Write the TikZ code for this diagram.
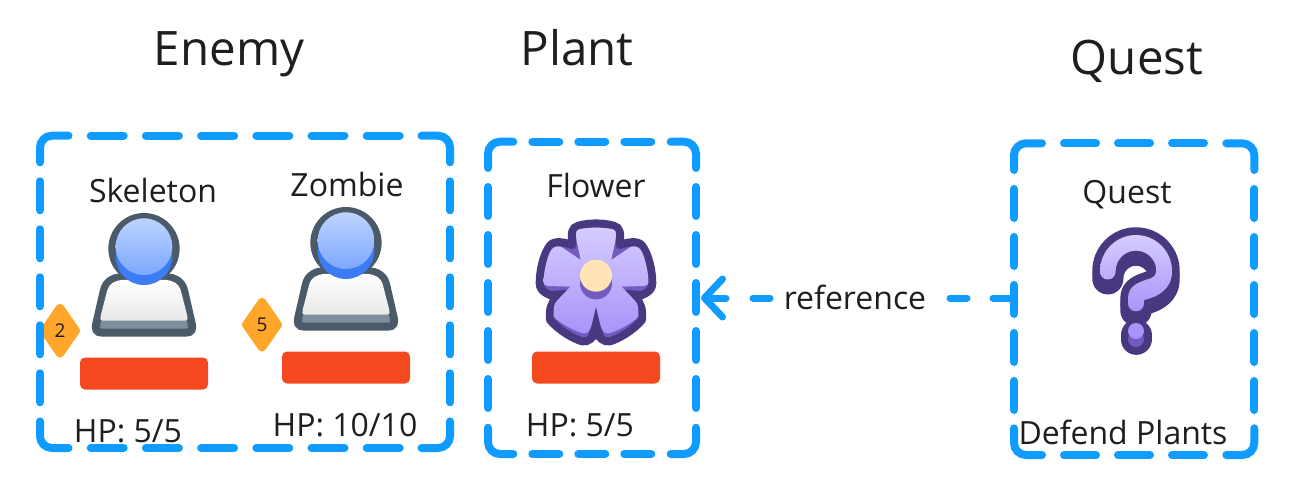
\documentclass[tikz,border=0pt]{standalone}
\usepackage{fontspec}
\setmainfont{Open Sans}
\usetikzlibrary{arrows.meta}
\definecolor{frameblue}{HTML}{0F9BFF}
\definecolor{inkdark}{HTML}{1E1E1E}
\definecolor{barred}{HTML}{F4491F}
\definecolor{badge}{HTML}{FFA62B}
\definecolor{slate}{HTML}{4B5A69}
\definecolor{slatemid}{HTML}{7F8E9D}
\definecolor{bluedeep}{HTML}{3B7CF5}
\definecolor{bluetop}{HTML}{BDD4FF}
\definecolor{bluebot}{HTML}{7DA8FF}
\definecolor{purpledark}{HTML}{483880}
\definecolor{purplemid}{HTML}{7359C0}
\definecolor{purpletop}{HTML}{D6CCFF}
\definecolor{purplebot}{HTML}{A893F8}
\definecolor{cream}{HTML}{FFE4B5}
\tikzset{
  framestroke/.style={draw=frameblue,line width=8pt,line cap=round},
  framebox/.style={inner sep=0pt,outer sep=0pt},
  title/.style={text=inkdark,font=\fontsize{47.5}{54}\selectfont,inner sep=0pt,anchor=base},
  label/.style={text=inkdark,font=\fontsize{32}{38}\selectfont,inner sep=0pt,anchor=base},
  redbar/.style={fill=barred,rounded corners=5pt,minimum width=128pt,minimum height=32pt,inner sep=0pt},
  badgeshape/.style={fill=badge,draw=badge,line join=round,line width=8pt},
  connector/.style={draw=frameblue,line width=7pt,line cap=round,dash pattern=on 18pt off 27pt on 17pt off 180pt on 17pt off 26pt on 30pt},
  person/.pic={
    \begin{scope}[x=0.3333pt,y=-0.3333pt]
      \fill[slate] (342,176) circle (107);
      \draw[slate,line width=8pt,fill=slatemid] (216,428) -- (468,428) .. controls (486,428) and (489,415) .. (485,400) -- (462,300) .. controls (455,272) and (430,262) .. (410,262) -- (274,262) .. controls (254,262) and (229,272) .. (222,300) -- (199,400) .. controls (195,415) and (198,428) .. (216,428) -- cycle;
      \shade[top color=white,bottom color=gray!18] (218,392) -- (466,392) .. controls (474,392) and (474,385) .. (472,378) -- (452,300) .. controls (447,282) and (430,272) .. (410,270) -- (274,270) .. controls (254,272) and (237,282) .. (232,300) -- (212,378) .. controls (210,385) and (210,392) .. (218,392) -- cycle;
      \fill[bluedeep] (342,200) circle (85);
      \shade[top color=bluetop,bottom color=bluebot] (342,170) circle (85);
    \end{scope}
  },
  flower/.pic={
    \begin{scope}[x=0.3333pt,y=-0.3333pt]
      \draw[purpledark,line width=8pt,fill=purplemid,line join=round]
        (157,100) .. controls (153,70) and (155,52) .. (175,47) .. controls (210,38) and (246,38) .. (281,47) .. controls (301,52) and (303,70) .. (299,105)
        .. controls (320,98) and (350,90) .. (365,105) .. controls (385,130) and (397,180) .. (397,220) .. controls (397,245) and (370,255) .. (345,262)
        .. controls (365,280) and (368,300) .. (366,330) .. controls (340,360) and (300,385) .. (270,394) .. controls (250,397) and (238,385) .. (228,362)
        .. controls (218,385) and (206,397) .. (186,394) .. controls (156,385) and (116,360) .. (90,330) .. controls (88,300) and (91,280) .. (111,262)
        .. controls (86,255) and (59,245) .. (59,220) .. controls (59,180) and (71,130) .. (91,105) .. controls (106,90) and (136,98) .. (157,105) -- cycle;
      \fill[purpledark] (214,345) -- (228,295) -- (242,345) -- (254,388) -- (202,388) -- cycle;
      \fill[purpledark] (300,238) -- (390,246) -- (350,270) -- cycle;
      \fill[purpledark] (156,238) -- (66,246) -- (106,270) -- cycle;
      \shade[top color=purpletop,bottom color=purplebot]
        (182,150) .. controls (175,115) and (168,90) .. (168,72) .. controls (168,60) and (175,58) .. (185,56) .. controls (215,52) and (241,52) .. (271,56) .. controls (281,58) and (288,60) .. (288,72) .. controls (288,90) and (281,115) .. (274,150)
        -- (330,112) .. controls (350,105) and (360,112) .. (368,130) .. controls (378,155) and (386,195) .. (385,215) .. controls (385,225) and (378,228) .. (370,228) -- (305,230) -- (345,272) .. controls (355,282) and (356,295) .. (355,320) .. controls (335,340) and (300,360) .. (268,370) .. controls (255,372) and (246,365) .. (241,345) -- (228,288)
        -- (215,345) .. controls (210,365) and (201,372) .. (188,370) .. controls (156,360) and (121,340) .. (101,320) .. controls (100,295) and (101,282) .. (111,272) -- (151,230) -- (86,228) .. controls (78,228) and (71,225) .. (71,215) .. controls (70,195) and (78,155) .. (88,130) .. controls (96,112) and (106,105) .. (126,112) -- cycle;
      \fill[purplemid] (228,220) circle (48);
      \fill[cream] (228,197) circle (48);
    \end{scope}
  },
  questionmark/.pic={
    \begin{scope}[x=0.3333pt,y=-0.3333pt]
      \def\qshape{(120,153) arc[start angle=180,end angle=370,radius=108] .. controls (325,220) and (275,235) .. (252,240) -- (252,250) arc[start angle=0,end angle=180,radius=24] -- (204,235) .. controls (204,195) and (240,185) .. (272,175) .. controls (285,170) and (289,160) .. (289,153) arc[start angle=360,end angle=180,radius=61] -- (167,155) arc[start angle=0,end angle=180,radius=23.5] -- cycle}
      \draw[purpledark,line width=15.5pt,line join=round] \qshape;
      \begin{scope}[yshift=-7.3pt]
        \draw[purpledark,line width=15.5pt,line join=round,fill=purplemid] \qshape;
      \end{scope}
      \draw[purpledark,line width=31pt,line cap=round] (228,345) -- (228,358);
      \fill[purplemid] (228,357) circle (24);
      \shade[top color=purpletop,bottom color=purplebot] \qshape;
      \fill[purplebot] (228,333) circle (24);
    \end{scope}
  },
}
\newcommand{\framedash}[9]{%
  \pgfmathsetmacro\hc{#5-(#7-#6)}%
  \pgfmathsetmacro\vc{#9-19}%
  \draw[framestroke,rounded corners=12pt] (#1,#2+\vc) -- (#1,#2) -- (#1+\hc,#2);
  \draw[framestroke,rounded corners=12pt] (#3,#2+\vc) -- (#3,#2) -- (#3-\hc,#2);
  \draw[framestroke,rounded corners=12pt] (#1,#4-\vc) -- (#1,#4) -- (#1+\hc,#4);
  \draw[framestroke,rounded corners=12pt] (#3,#4-\vc) -- (#3,#4) -- (#3-\hc,#4);
  \pgfmathtruncatemacro\hm{#8-1}%
  \foreach \i in {0,...,\hm} {
    \pgfmathsetmacro\xa{#1+#5+\i*#7}
    \draw[framestroke] (\xa,#2) -- ++(#6,0);
    \draw[framestroke] (\xa,#4) -- ++(#6,0);
  }
  \foreach \i in {0,...,4} {
    \pgfmathsetmacro\ya{#2+#9+\i*48}
    \draw[framestroke] (#1,\ya) -- ++(0,29);
    \draw[framestroke] (#3,\ya) -- ++(0,29);
  }
}
\begin{document}
\begin{tikzpicture}[x=1pt,y=-1pt]
\useasboundingbox (0,0) rectangle (1296,498);
\node[title] (tenemy) at (229,65) {Enemy};
\node[title] (tplant) at (577,65) {Plant};
\node[title] (tquest) at (1137,74) {Quest};

\node[framebox,minimum width=410pt,minimum height=312.3pt] (fenemy) at (245,291.85) {};
\node[framebox,minimum width=208pt,minimum height=312.3pt] (fplant) at (592,297.85) {};
\node[framebox,minimum width=240.3pt,minimum height=311.7pt] (fquest) at (1134.15,299.15) {};

\node[label] (lskel) at (153,202) {Skeleton};
\node[label] (lzomb) at (347,196) {Zombie};
\node[label] (lflow) at (596,197) {Flower};
\node[label] (lques) at (1127,203) {Quest};
\node[label] (hp1) at (128,442) {HP: 5/5};
\node[label] (hp2) at (345,436) {HP: 10/10};
\node[label] (hp3) at (580,436) {HP: 5/5};
\node[label] (ldef) at (1123,444) {Defend Plants};

\pic at (30,190) {person};
\pic at (232,184) {person};
\pic at (520,210) {flower};
\pic at (1060,220) {questionmark};

\node[redbar] (bar1) at (144,373.5) {};
\node[redbar] (bar2) at (346,367.5) {};
\node[redbar] (bar3) at (596,367.5) {};

\coordinate (d1) at (60,330.7);
\coordinate (d2) at (262,324.7);
\draw[badgeshape] (d1) ++(0,-23) -- ++(16,23) -- ++(-16,23) -- ++(-16,-23) -- cycle;
\draw[badgeshape] (d2) ++(0,-23) -- ++(16,23) -- ++(-16,23) -- ++(-16,-23) -- cycle;
\node[inner sep=0pt,text=inkdark,font=\fontsize{19}{22}\selectfont] (n1) at (d1) {2};
\node[inner sep=0pt,text=inkdark,font=\fontsize{19}{22}\selectfont] (n2) at (d2) {5};

\framedash{40}{135.7}{450}{448}{50.7}{33}{55.2}{6}{45.6}
\framedash{488}{141.7}{696}{454}{44.3}{27}{46}{3}{45.3}
\framedash{1014}{143.3}{1254.3}{455}{50}{32}{54}{3}{45.7}

\coordinate (tip) at (701,298);
\coordinate (qend) at (fquest.west |- tip);
\draw[connector,{Straight Barb[length=18pt,width=38pt,round,line width=7pt]}-] (tip) -- (qend);
\node[label] (ref) at (855,309) {reference};
\end{tikzpicture}
\end{document}
